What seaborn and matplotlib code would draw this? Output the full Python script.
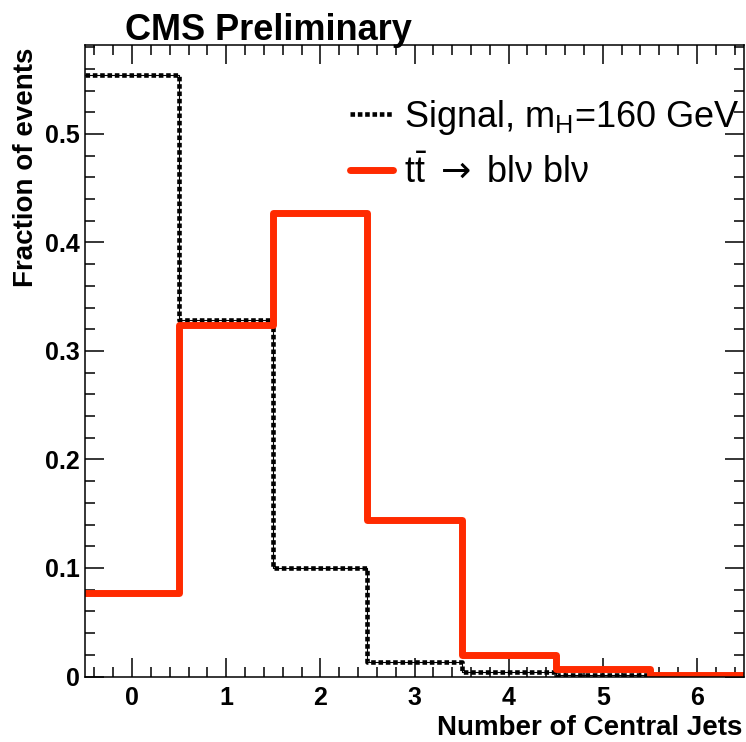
import numpy as np
import pandas as pd
import matplotlib
matplotlib.use("Agg")
import matplotlib.pyplot as plt
import seaborn as sns
from matplotlib.lines import Line2D
from matplotlib.ticker import MultipleLocator, FuncFormatter

# ---- data ----
n_jets = [0, 1, 2, 3, 4, 5, 6]
signal_frac = [0.554, 0.329, 0.100, 0.0136, 0.0044, 0.001, 0.0]
ttbar_frac = [0.077, 0.324, 0.427, 0.144, 0.020, 0.0066, 0.001]
signal_label = r"Signal, m$_{\mathregular{H}}$=160 GeV"
ttbar_label = r"t$\bar{\mathregular{t}}\ \mathsf{\rightarrow}\ $blν blν"
title_text = "CMS Preliminary"
xlabel_text = "Number of Central Jets"
ylabel_text = "Fraction of events"

sns.set_theme(style="ticks")
plt.rcParams["font.family"] = ["Liberation Sans", "DejaVu Sans"]
plt.rcParams["mathtext.fontset"] = "custom"
plt.rcParams["mathtext.rm"] = "Liberation Sans"
plt.rcParams["mathtext.it"] = "Liberation Sans"
plt.rcParams["mathtext.bf"] = "Liberation Sans:bold"
plt.rcParams["mathtext.sf"] = "DejaVu Sans"
for k in ["text.color", "axes.labelcolor", "xtick.color", "ytick.color", "axes.edgecolor"]:
    plt.rcParams[k] = "black"

df = pd.DataFrame({"n": n_jets, "sig": signal_frac, "tt": ttbar_frac})

fig = plt.figure(figsize=(7.46, 7.42), dpi=100)
ax = fig.add_axes([85 / 746, 1 - 676.5 / 742, 659 / 746, (676.5 - 45) / 742])

sig_color = "black"
tt_color = "#ff2a00"
sig_ls = (0, (1.0, 0.6))
# signal: thin solid core + thick dotted overlay (ROOT-like dotted look)
sns.histplot(data=df, x="n", weights="sig", discrete=True, element="step", fill=False,
             color=sig_color, linewidth=0.8, ax=ax)
sns.histplot(data=df, x="n", weights="sig", discrete=True, element="step", fill=False,
             color=sig_color, linewidth=3.3, linestyle=sig_ls, ax=ax)
sns.histplot(data=df, x="n", weights="tt", discrete=True, element="step", fill=False,
             color=tt_color, linewidth=5.0, ax=ax)

ax.set_xlim(-0.5, 6.5)
ax.set_ylim(0, 0.582)
ax.set_xlabel("")
ax.set_ylabel("")

ax.xaxis.set_major_locator(MultipleLocator(1))
ax.xaxis.set_minor_locator(MultipleLocator(0.2))
ax.yaxis.set_major_locator(MultipleLocator(0.1))
ax.yaxis.set_minor_locator(MultipleLocator(0.02))
ax.yaxis.set_major_formatter(FuncFormatter(lambda v, p: f"{v:g}"))

ax.tick_params(which="both", direction="in", top=True, right=True, width=1.1, color="black")
ax.tick_params(which="major", length=14)
ax.tick_params(which="minor", length=7)
ax.tick_params(axis="both", which="major", labelsize=18)
ax.tick_params(axis="y", which="major", pad=4)
ax.tick_params(axis="x", which="major", pad=7)
for lab in ax.get_xticklabels() + ax.get_yticklabels():
    lab.set_fontweight("bold")
for s in ax.spines.values():
    s.set_visible(True)
    s.set_linewidth(1.1)
    s.set_color("black")

handles = [Line2D([], [], color=sig_color, lw=3.3, linestyle=sig_ls),
           Line2D([], [], color=tt_color, lw=5.0)]
ax.legend(handles, [signal_label, ttbar_label], loc="upper left",
          bbox_to_anchor=(0.402, 0.916), frameon=False, fontsize=26,
          handlelength=1.2, handletextpad=0.3, labelspacing=0.5,
          borderpad=0, borderaxespad=0)

fig.text(125 / 746, 1 - 40 / 742, title_text, fontsize=26, fontweight="bold",
         ha="left", va="baseline")
fig.text(742 / 746, 1 - 728 / 742, xlabel_text, fontsize=20, fontweight="bold",
         ha="right", va="center")
fig.text(26 / 746, 1 - 48 / 742, ylabel_text, fontsize=20, fontweight="bold",
         ha="center", va="top", rotation=90)

fig.savefig("out.png", dpi=100, facecolor="white")
